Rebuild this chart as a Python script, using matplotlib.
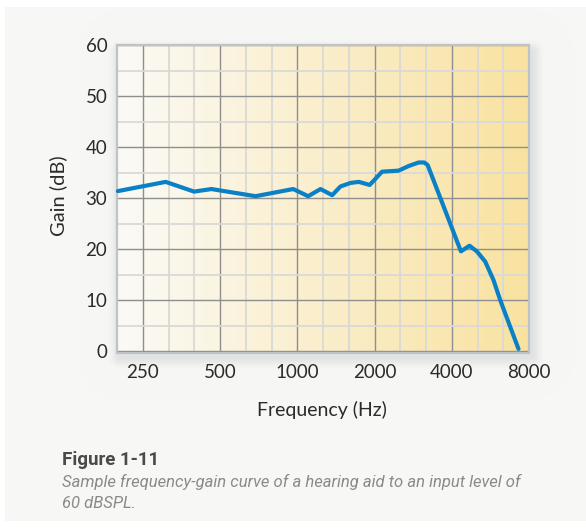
import numpy as np
import matplotlib
matplotlib.use("Agg")
import matplotlib.pyplot as plt
from matplotlib.ticker import FixedLocator, NullFormatter

# ---- data ----
freq_hz = [200, 307, 396, 463, 688, 964, 1103, 1232, 1368, 1473, 1612, 1737, 1916,
           2140, 2483, 2715, 2971, 3125, 3222, 4343, 4690, 5010, 5400, 5815, 6175,
           6750, 7280]
gain_db = [31.4, 33.2, 31.3, 31.8, 30.4, 31.8, 30.4, 31.8, 30.6, 32.3, 33.0, 33.2, 32.6,
           35.2, 35.4, 36.3, 37.0, 37.0, 36.5, 19.6, 20.7, 19.6, 17.6, 14.0, 10.1,
           4.9, 0.5]
x_tick_values = [250, 500, 1000, 2000, 4000, 8000]
x_tick_labels = ["250", "500", "1000", "2000", "4000", "8000"]
y_tick_values = [0, 10, 20, 30, 40, 50, 60]

W, H = 586, 530
fig = plt.figure(figsize=(W / 100, H / 100), dpi=100)
fig.patch.set_facecolor("white")

# ---- background panel with drop shadow ----
bg = fig.add_axes([0, 0, 1, 1], zorder=-10)
bg.set_axis_off()
img = np.ones((H, W, 3))
panel = np.array([247, 247, 245]) / 255.0
img[7:521, 5:, :] = panel
ax_l, ax_r, ax_t, ax_b = 117, 529, 45, 353
yy, xx = np.mgrid[0:H, 0:W]
sx0, sx1, sy0, sy1 = ax_l + 2, ax_r + 3, ax_t + 6, ax_b + 4
dx = np.maximum(np.maximum(sx0 - xx, xx - sx1), 0)
dy = np.maximum(np.maximum(sy0 - yy, yy - sy1), 0)
d = np.sqrt(dx ** 2 + dy ** 2)
alpha = 0.22 * np.exp(-(d / 7.0) ** 2)
shadow_col = np.array([150, 155, 165]) / 255.0
region = np.zeros((H, W), bool)
region[7:521, 5:] = True
a = alpha[..., None] * region[..., None]
img = img * (1 - a) + shadow_col * a
bg.imshow(img, extent=[0, 1, 0, 1], aspect="auto", interpolation="bilinear")
bg.set_xlim(0, 1)
bg.set_ylim(0, 1)

# ---- main axes ----
ax = fig.add_axes([ax_l / W, 1 - ax_b / H, (ax_r - ax_l) / W, (ax_b - ax_t) / H])
ax.set_xscale("log")

# gradient fill
left_c = np.array([251, 250, 246]) / 255.0
right_c = np.array([249, 226, 160]) / 255.0
t = np.linspace(0, 1, 256)
grad = (left_c[None, :] * (1 - t[:, None]) + right_c[None, :] * t[:, None])[None, :, :]
ax.imshow(grad, extent=[0, 1, 0, 1], transform=ax.transAxes, aspect="auto",
          interpolation="bilinear", zorder=0)

ax.plot(freq_hz, gain_db, color="#0a80c6", lw=3.0, solid_joinstyle="round",
        solid_capstyle="round", zorder=5, clip_on=False)

ax.set_xlim(198.4, 8000)
ax.set_ylim(-0.3, 60)

ax.xaxis.set_major_locator(FixedLocator(x_tick_values))
ax.set_xticklabels(x_tick_labels)
minor_x = [250 * 2 ** (k / 3) for k in range(-1, 16) if k % 3 != 0]
ax.xaxis.set_minor_locator(FixedLocator(minor_x))
ax.xaxis.set_minor_formatter(NullFormatter())
ax.yaxis.set_major_locator(FixedLocator(y_tick_values))
ax.yaxis.set_minor_locator(FixedLocator([5, 15, 25, 35, 45, 55]))

ax.grid(which="minor", color="#d9d9d6", lw=1.3, zorder=1)
ax.grid(which="major", color="#8e8e8c", lw=1.0, zorder=2)
ax.set_axisbelow(True)

ax.tick_params(which="both", length=0)
ax.tick_params(axis="x", pad=8, labelsize=13.5, labelcolor="#2b2b2b")
ax.tick_params(axis="y", pad=7, labelsize=13.5, labelcolor="#2b2b2b")
for lab in ax.get_xticklabels() + ax.get_yticklabels():
    lab.set_fontfamily("Lato")

for s in ax.spines.values():
    s.set_color("#bfc3c7")
    s.set_linewidth(1.6)
    s.set_zorder(3)

fig.text(58 / W, 1 - 196 / H, "Gain (dB)", rotation=90, ha="center", va="center",
         fontsize=14.5, family="Lato", color="#2b2b2b")
fig.text(322 / W, 1 - 410 / H, "Frequency (Hz)", ha="center", va="center",
         fontsize=14, family="Lato", color="#2b2b2b")

fig.text(62 / W, 1 - 465 / H, "Figure 1-11", ha="left", va="baseline",
         fontsize=13.5, family="Roboto", weight="bold", color="#4a4a4a")
fig.text(62 / W, 1 - 487 / H,
         "Sample frequency-gain curve of a hearing aid to an input level of",
         ha="left", va="baseline", fontsize=12, family="Roboto", style="italic",
         color="#8a8a8a")
fig.text(62 / W, 1 - 508 / H, "60 dBSPL.", ha="left", va="baseline", fontsize=12,
         family="Roboto", style="italic", color="#8a8a8a")

fig.savefig("out.png", dpi=100)
